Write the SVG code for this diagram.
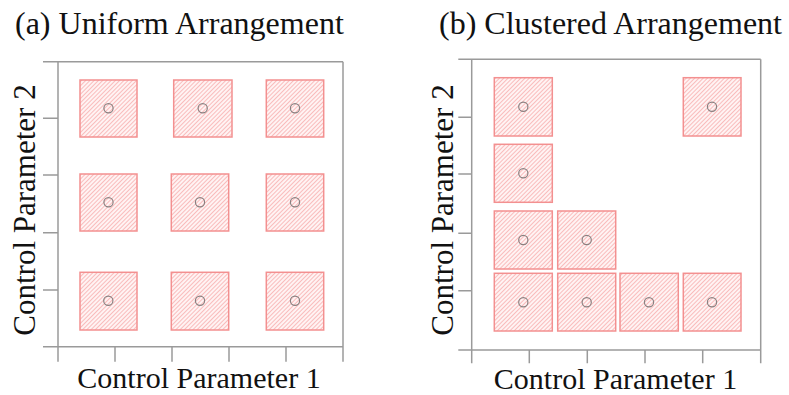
<svg xmlns="http://www.w3.org/2000/svg" width="789" height="395" viewBox="0 0 789 395">
<style>
.title{font-family:"Liberation Serif","Times New Roman",serif;font-size:32px;fill:#111}
.lab{font-family:"Liberation Serif","Times New Roman",serif;font-size:30px;fill:#111;text-anchor:middle}
.ax{stroke:#9a9a9a;stroke-width:1.5;fill:none}
.sq{fill:url(#hatch);stroke:#f39090;stroke-width:1.5}
.pt{fill:none;stroke:#8a8080;stroke-width:1.2}
</style>
<defs>
<pattern id="hatch" patternUnits="userSpaceOnUse" width="3" height="3" patternTransform="rotate(-45)">
<rect width="3" height="3" fill="#fff3f3"/>
<rect width="3" height="1" fill="#f9bcbc"/>
</pattern>
</defs>
<rect width="789" height="395" fill="#fff"/>

<text class="title" x="15" y="34">(a) Uniform Arrangement</text>
<text class="title" x="439" y="34">(b) Clustered Arrangement</text>

<g id="axes-a">
<path class="ax" d="M43,61.7H343M43,346.7H343M58,61.7V361.7M343,61.7V361.7M43,118.3H58M43,175H58M43,232.7H58M43,290H58M115,346.7V361.7M172,346.7V361.7M229,346.7V361.7M286,346.7V361.7"/>
<text class="lab" x="199" y="388">Control Parameter 1</text>
<text class="lab" transform="translate(35,210) rotate(-90)" style="font-size:31px">Control Parameter 2</text>
</g>

<g id="axes-b">
<path class="ax" d="M458.3,59.3H760.7M458.3,350H760.7M471.7,59.3V363.3M760.7,59.3V363.3M458.3,117.3H471.7M458.3,174H471.7M458.3,233.3H471.7M458.3,290.7H471.7M529.3,350V363.3M587.3,350V363.3M645,350V363.3M702.7,350V363.3"/>
<text class="lab" x="615.5" y="389">Control Parameter 1</text>
<text class="lab" transform="translate(453,210) rotate(-90)" style="font-size:31px">Control Parameter 2</text>
</g>

<g id="a-r1c1"><rect class="sq" x="80" y="80" width="57" height="57"/><circle class="pt" cx="108.5" cy="108.3" r="4.6"/></g>
<g id="a-r1c2"><rect class="sq" x="173.7" y="80" width="58.3" height="57"/><circle class="pt" cx="202.7" cy="108.3" r="4.6"/></g>
<g id="a-r1c3"><rect class="sq" x="266.3" y="80" width="57.4" height="57"/><circle class="pt" cx="295" cy="108.3" r="4.6"/></g>
<g id="a-r2c1"><rect class="sq" x="80" y="174" width="57" height="57"/><circle class="pt" cx="108.5" cy="202.3" r="4.6"/></g>
<g id="a-r2c2"><rect class="sq" x="171.3" y="174" width="57.4" height="57"/><circle class="pt" cx="200" cy="202.3" r="4.6"/></g>
<g id="a-r2c3"><rect class="sq" x="266.3" y="174" width="57.4" height="57"/><circle class="pt" cx="295" cy="202.3" r="4.6"/></g>
<g id="a-r3c1"><rect class="sq" x="80" y="272.3" width="57" height="57.7"/><circle class="pt" cx="108.3" cy="300.7" r="4.6"/></g>
<g id="a-r3c2"><rect class="sq" x="171.3" y="272.3" width="57.4" height="57.7"/><circle class="pt" cx="200" cy="300.7" r="4.6"/></g>
<g id="a-r3c3"><rect class="sq" x="266.3" y="272.3" width="57.4" height="57.7"/><circle class="pt" cx="295" cy="300.7" r="4.6"/></g>

<g id="b-r1c1"><rect class="sq" x="494.3" y="77.7" width="58" height="58.3"/><circle class="pt" cx="523.3" cy="106.7" r="4.6"/></g>
<g id="b-r1c4"><rect class="sq" x="683.3" y="77.7" width="57.7" height="58.3"/><circle class="pt" cx="712" cy="106.7" r="4.6"/></g>
<g id="b-r2c1"><rect class="sq" x="494.3" y="144.3" width="58" height="58"/><circle class="pt" cx="523.3" cy="173.3" r="4.6"/></g>
<g id="b-r3c1"><rect class="sq" x="494.3" y="211" width="58" height="58"/><circle class="pt" cx="523.3" cy="240" r="4.6"/></g>
<g id="b-r3c2"><rect class="sq" x="557.7" y="211" width="58" height="58"/><circle class="pt" cx="586.7" cy="240" r="4.6"/></g>
<g id="b-r4c1"><rect class="sq" x="494.3" y="273.3" width="58" height="57.7"/><circle class="pt" cx="523.3" cy="302.3" r="4.6"/></g>
<g id="b-r4c2"><rect class="sq" x="557.7" y="273.3" width="58" height="57.7"/><circle class="pt" cx="586.7" cy="302.3" r="4.6"/></g>
<g id="b-r4c3"><rect class="sq" x="620" y="273.3" width="58.3" height="57.7"/><circle class="pt" cx="649" cy="302.3" r="4.6"/></g>
<g id="b-r4c4"><rect class="sq" x="683.3" y="273.3" width="57.7" height="57.7"/><circle class="pt" cx="712" cy="302.3" r="4.6"/></g>
</svg>
